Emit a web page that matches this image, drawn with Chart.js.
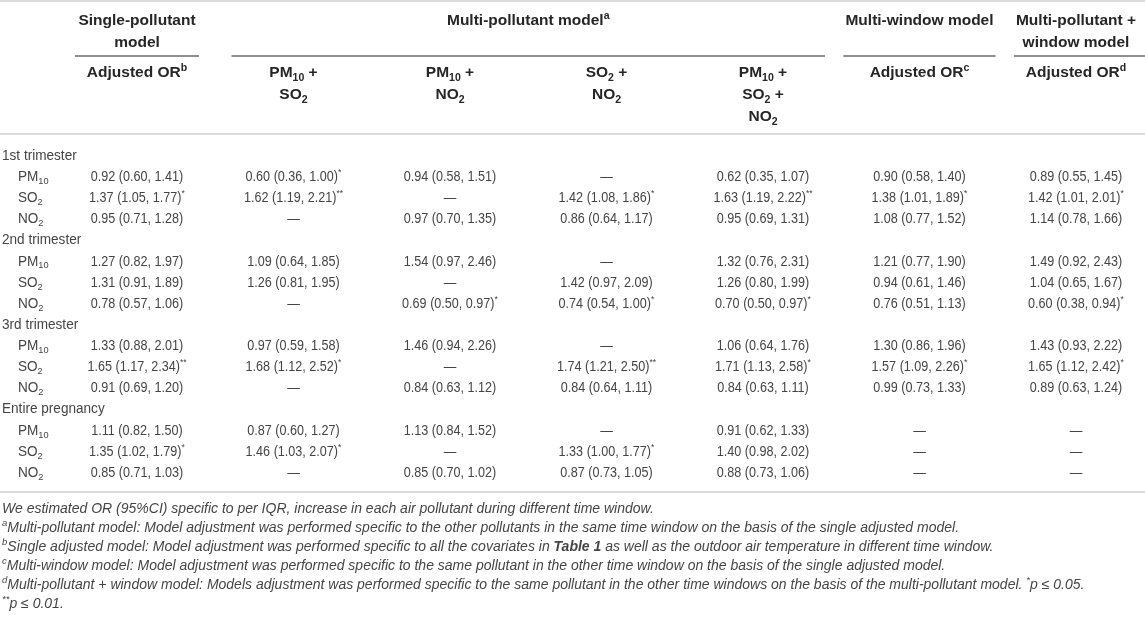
<!DOCTYPE html>
<html>
<head>
<meta charset="utf-8">
<title>Adjusted OR by pollutant and time window</title>
<script src="https://cdn.jsdelivr.net/npm/chart.js@4.4.1/dist/chart.umd.min.js"></script>
<style>
  html, body { margin: 0; padding: 0; background: #fff; }
  #wrap { width: 1145px; height: 621px; position: relative; }
</style>
</head>
<body>
<div id="wrap"><canvas id="oddsTable"></canvas></div>
<script>
// ---- data ----
const columnKeys = ['single', 'pm10_so2', 'pm10_no2', 'so2_no2', 'pm10_so2_no2', 'multiWindow', 'multiPollWindow'];
const windows = ['1st trimester', '2nd trimester', '3rd trimester', 'Entire pregnancy'];
const pollutants = ['PM_{10}', 'SO_{2}', 'NO_{2}'];

// each cell: [OR, lower, upper, number of stars] or null for "—"
const trimester1 = [
  [[0.92, 0.60, 1.41, 0], [0.60, 0.36, 1.00, 1], [0.94, 0.58, 1.51, 0], null, [0.62, 0.35, 1.07, 0], [0.90, 0.58, 1.40, 0], [0.89, 0.55, 1.45, 0]],
  [[1.37, 1.05, 1.77, 1], [1.62, 1.19, 2.21, 2], null, [1.42, 1.08, 1.86, 1], [1.63, 1.19, 2.22, 2], [1.38, 1.01, 1.89, 1], [1.42, 1.01, 2.01, 1]],
  [[0.95, 0.71, 1.28, 0], null, [0.97, 0.70, 1.35, 0], [0.86, 0.64, 1.17, 0], [0.95, 0.69, 1.31, 0], [1.08, 0.77, 1.52, 0], [1.14, 0.78, 1.66, 0]]
];
const trimester2 = [
  [[1.27, 0.82, 1.97, 0], [1.09, 0.64, 1.85, 0], [1.54, 0.97, 2.46, 0], null, [1.32, 0.76, 2.31, 0], [1.21, 0.77, 1.90, 0], [1.49, 0.92, 2.43, 0]],
  [[1.31, 0.91, 1.89, 0], [1.26, 0.81, 1.95, 0], null, [1.42, 0.97, 2.09, 0], [1.26, 0.80, 1.99, 0], [0.94, 0.61, 1.46, 0], [1.04, 0.65, 1.67, 0]],
  [[0.78, 0.57, 1.06, 0], null, [0.69, 0.50, 0.97, 1], [0.74, 0.54, 1.00, 1], [0.70, 0.50, 0.97, 1], [0.76, 0.51, 1.13, 0], [0.60, 0.38, 0.94, 1]]
];
const trimester3 = [
  [[1.33, 0.88, 2.01, 0], [0.97, 0.59, 1.58, 0], [1.46, 0.94, 2.26, 0], null, [1.06, 0.64, 1.76, 0], [1.30, 0.86, 1.96, 0], [1.43, 0.93, 2.22, 0]],
  [[1.65, 1.17, 2.34, 2], [1.68, 1.12, 2.52, 1], null, [1.74, 1.21, 2.50, 2], [1.71, 1.13, 2.58, 1], [1.57, 1.09, 2.26, 1], [1.65, 1.12, 2.42, 1]],
  [[0.91, 0.69, 1.20, 0], null, [0.84, 0.63, 1.12, 0], [0.84, 0.64, 1.11, 0], [0.84, 0.63, 1.11, 0], [0.99, 0.73, 1.33, 0], [0.89, 0.63, 1.24, 0]]
];
const entirePregnancy = [
  [[1.11, 0.82, 1.50, 0], [0.87, 0.60, 1.27, 0], [1.13, 0.84, 1.52, 0], null, [0.91, 0.62, 1.33, 0], null, null],
  [[1.35, 1.02, 1.79, 1], [1.46, 1.03, 2.07, 1], null, [1.33, 1.00, 1.77, 1], [1.40, 0.98, 2.02, 0], null, null],
  [[0.85, 0.71, 1.03, 0], null, [0.85, 0.70, 1.02, 0], [0.87, 0.73, 1.05, 0], [0.88, 0.73, 1.06, 0], null, null]
];
const windowValues = [trimester1, trimester2, trimester3, entirePregnancy];

// header text (^{} = superscript, _{} = subscript, #{} = bold)
const modelGroups = [
  { lines: ['Single-pollutant', 'model'], from: 0, to: 0 },
  { lines: ['Multi-pollutant model^{a}'], from: 1, to: 4 },
  { lines: ['Multi-window model'], from: 5, to: 5 },
  { lines: ['Multi-pollutant +', 'window model'], from: 6, to: 6 }
];
const columnHeads = [
  ['Adjusted OR^{b}'],
  ['PM_{10} +', 'SO_{2}'],
  ['PM_{10} +', 'NO_{2}'],
  ['SO_{2} +', 'NO_{2}'],
  ['PM_{10} +', 'SO_{2} +', 'NO_{2}'],
  ['Adjusted OR^{c}'],
  ['Adjusted OR^{d}']
];
const noteLines = [
  'We estimated OR (95%CI) specific to per IQR, increase in each air pollutant during different time window.',
  '^{a}Multi-pollutant model: Model adjustment was performed specific to the other pollutants in the same time window on the basis of the single adjusted model.',
  '^{b}Single adjusted model: Model adjustment was performed specific to all the covariates in #{Table 1} as well as the outdoor air temperature in different time window.',
  '^{c}Multi-window model: Model adjustment was performed specific to the same pollutant in the other time window on the basis of the single adjusted model.',
  '^{d}Multi-pollutant + window model: Models adjustment was performed specific to the same pollutant in the other time windows on the basis of the multi-pollutant model. ^{*}p \u2264 0.05.',
  '^{**}p \u2264 0.01.'
];

// ---- rows ----
const rowKeys = [];
const rows = [];
windows.forEach((w, wi) => {
  rowKeys.push(w);
  rows.push({ group: true, label: w });
  pollutants.forEach((p, pi) => {
    rowKeys.push(w + '|' + p);
    rows.push({ group: false, label: p, cells: windowValues[wi][pi] });
  });
});

function formatCell(c) {
  if (!c) return '\u2014';
  const s = c[0].toFixed(2) + ' (' + c[1].toFixed(2) + ', ' + c[2].toFixed(2) + ')';
  return c[3] ? s + '^{' + '*'.repeat(c[3]) + '}' : s;
}

// ---- text helpers ----
const FONT = '"Liberation Sans", Arial, Helvetica, sans-serif';
const headStyle = { size: 15.5, weight: 'bold', color: '#262626', align: 'center' };
const cellStyle = { size: 14, weight: 'normal', color: '#454545', align: 'center', sx: 0.9 };
const labelStyle = { size: 14, weight: 'normal', color: '#454545', align: 'left', sx: 0.97 };
const noteStyle = { size: 14, weight: 'normal', style: 'italic', color: '#454545', align: 'left' };

function parseRich(str) {
  return str.split(/(\^\{[^}]*\}|_\{[^}]*\}|#\{[^}]*\})/).filter(s => s.length).map(s => {
    if (s.startsWith('^{')) return { t: s.slice(2, -1), k: 'sup' };
    if (s.startsWith('_{')) return { t: s.slice(2, -1), k: 'sub' };
    if (s.startsWith('#{')) return { t: s.slice(2, -1), k: 'bold' };
    return { t: s, k: 'n' };
  });
}

function fontFor(st, k) {
  const size = (k === 'sup' || k === 'sub') ? st.size * 0.68 : st.size;
  const weight = k === 'bold' ? 'bold' : (st.weight || 'normal');
  return (st.style || 'normal') + ' ' + weight + ' ' + size + 'px ' + FONT;
}

function drawRich(ctx, str, x, y, st) {
  const segs = parseRich(str);
  const sx = st.sx || 1;
  let total = 0;
  segs.forEach(s => {
    ctx.font = fontFor(st, s.k);
    s.w = ctx.measureText(s.t).width * sx;
    total += s.w;
  });
  let cx = st.align === 'center' ? x - total / 2 : (st.align === 'right' ? x - total : x);
  ctx.fillStyle = st.color;
  ctx.textBaseline = 'middle';
  ctx.textAlign = 'left';
  segs.forEach(s => {
    const dy = s.k === 'sup' ? -st.size * 0.33 : (s.k === 'sub' ? st.size * 0.3 : 0);
    ctx.font = fontFor(st, s.k);
    ctx.save();
    ctx.translate(cx, y + dy);
    ctx.scale(sx, 1);
    ctx.fillText(s.t, 0, 0);
    ctx.restore();
    cx += s.w;
  });
  return total;
}

function hline(ctx, x1, x2, y, color, width) {
  ctx.save();
  ctx.strokeStyle = color;
  ctx.lineWidth = width;
  ctx.beginPath();
  ctx.moveTo(x1, y);
  ctx.lineTo(x2, y);
  ctx.stroke();
  ctx.restore();
}

// ---- table drawn on the chart's scales ----
const tablePlugin = {
  id: 'tablePlugin',
  afterDraw(chart) {
    const { ctx, chartArea, scales: { x, y } } = chart;
    const W = chart.width;

    // header
    hline(ctx, 0, W, 1, '#dcdcdc', 2);
    modelGroups.forEach((g, gi) => {
      const left = x.getPixelForValue(g.from);
      const right = x.getPixelForValue(g.to);
      const mid = (left + right) / 2;
      let maxW = 0;
      g.lines.forEach((line, i) => {
        maxW = Math.max(maxW, drawRich(ctx, line, mid, 21 + i * 22, headStyle));
      });
      const half = Math.max(62, maxW / 2 + 2);
      const end = gi === modelGroups.length - 1 ? W : Math.max(right + 62, mid + half);
      hline(ctx, Math.min(left - 62, mid - half), end, 56, '#8f8f8f', 2);
    });
    columnHeads.forEach((lines, ci) => {
      lines.forEach((line, j) => drawRich(ctx, line, x.getPixelForValue(ci), 73 + j * 22, headStyle));
    });
    hline(ctx, 0, W, chartArea.top - 22, '#dcdcdc', 2);

    // body
    rows.forEach((r, ri) => {
      const py = y.getPixelForValue(ri);
      if (r.group) {
        drawRich(ctx, r.label, 2, py, labelStyle);
      } else {
        drawRich(ctx, r.label, 18, py, labelStyle);
        r.cells.forEach((c, ci) => drawRich(ctx, formatCell(c), x.getPixelForValue(ci), py, cellStyle));
      }
    });
    hline(ctx, 0, W, chartArea.bottom + 19, '#dcdcdc', 2);

    // footnotes
    noteLines.forEach((n, i) => drawRich(ctx, n, 2, chartArea.bottom + 36 + i * 19, noteStyle));
  }
};

new Chart(document.getElementById('oddsTable').getContext('2d'), {
  type: 'bar',
  data: { labels: columnKeys, datasets: [] },
  options: {
    responsive: true,
    maintainAspectRatio: false,
    animation: false,
    layout: { padding: { left: 137, right: 69, top: 156, bottom: 148 } },
    plugins: { legend: { display: false }, tooltip: { enabled: false } },
    scales: {
      x: { type: 'category', offset: false, display: false },
      y: { type: 'category', labels: rowKeys, offset: false, display: false }
    }
  },
  plugins: [tablePlugin]
});
</script>
</body>
</html>
